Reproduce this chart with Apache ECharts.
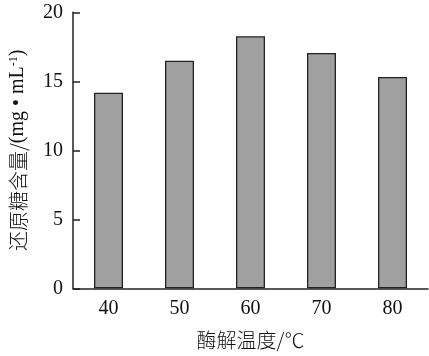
<!DOCTYPE html>
<html><head><meta charset="utf-8">
<script src="https://cdn.jsdelivr.net/npm/echarts@6/dist/echarts.min.js"></script>
<style>html,body{margin:0;padding:0;background:#fff}#c{width:429px;height:356px}</style>
</head><body><div id="c"></div>
<script>
const categories = ['40','50','60','70','80'];
const values = [14.17, 16.49, 18.26, 17.05, 15.31];
const yTicks = [0, 5, 10, 15, 20];
const xName = '酶解温度/℃';

const chart = echarts.init(document.getElementById('c'));
const serif = '"Liberation Serif", "DejaVu Serif", serif';
const cjk = '"Noto Sans CJK SC", sans-serif';
const axisCol = '#222';
chart.setOption({
  animation: false,
  backgroundColor: '#fff',
  grid: {left: 73, right: 1, top: 12.3, bottom: 67.7},
  xAxis: {
    type: 'category', data: categories, boundaryGap: true,
    name: xName, nameLocation: 'middle', nameGap: 42,
    nameTextStyle: {fontFamily: cjk, fontSize: 20, fontWeight: 300, color: '#111'},
    axisLine: {lineStyle: {color: axisCol, width: 1.5}},
    axisTick: {inside: true, length: 7, alignWithLabel: false, lineStyle: {color: axisCol, width: 1.5}},
    axisLabel: {fontFamily: serif, fontSize: 20, color: '#111', margin: 10}
  },
  yAxis: {
    type: 'value', min: yTicks[0], max: yTicks[yTicks.length-1], interval: 5,
    name: '{c|还原糖含量/}{p|(mg • mL}{s|-1}{p|)}', nameLocation: 'middle', nameRotate: 90, nameGap: 45,
    nameTextStyle: {
      rich: {
        c: {fontFamily: cjk, fontSize: 20, fontWeight: 300, color: '#111'},
        p: {fontFamily: serif, fontSize: 20, color: '#111'},
        s: {fontFamily: serif, fontSize: 12, color: '#111', verticalAlign: 'top', padding: [0,0,7,0]}
      }
    },
    splitLine: {show: false},
    axisLine: {show: true, lineStyle: {color: axisCol, width: 1.5}},
    axisTick: {show: true, inside: true, length: 7, lineStyle: {color: axisCol, width: 1.5}},
    axisLabel: {fontFamily: serif, fontSize: 20, color: '#111', margin: 10}
  },
  series: [{
    type: 'bar', data: values, barWidth: 29,
    itemStyle: {color: '#a0a0a0', borderColor: '#222', borderWidth: 1.3}
  }]
});
</script></body></html>
